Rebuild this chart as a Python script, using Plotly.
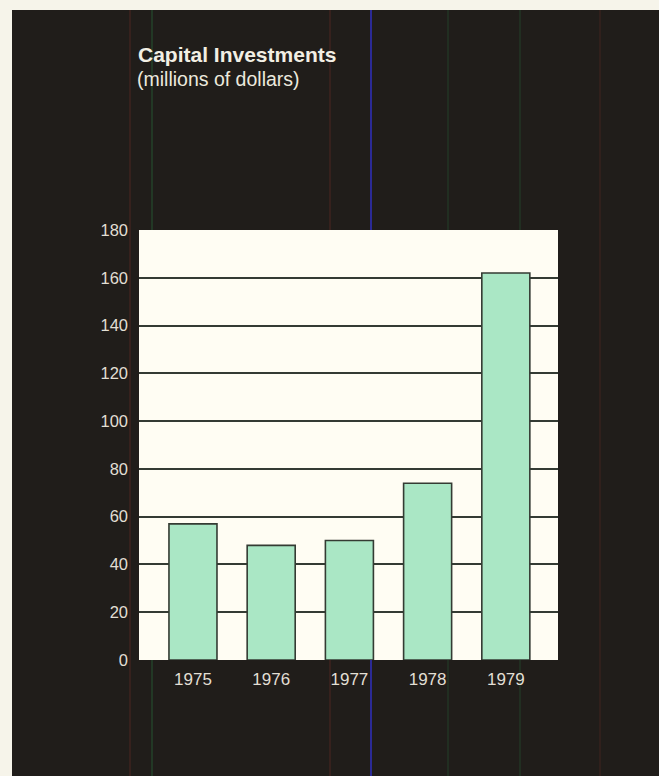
import plotly.graph_objects as go

# Chart data
years = ["1975", "1976", "1977", "1978", "1979"]
investments = [57, 48, 50, 74, 162]
y_tick_values = [0, 20, 40, 60, 80, 100, 120, 140, 160, 180]
title_text = "Capital Investments"
subtitle_text = "(millions of dollars)"

# Page geometry (pixels)
W, H = 659, 776
PLOT_L, PLOT_R, PLOT_T, PLOT_B = 139, 558, 230, 660
PANEL_L, PANEL_T = 12, 10


def paper_x(px):
    return (px - PLOT_L) / (PLOT_R - PLOT_L)


def paper_y(py):
    return (PLOT_B - py) / (PLOT_B - PLOT_T)


PANEL = "#201d1a"
MARGIN_BG = "#f6f4ea"
PLOT_BG = "#fffdf3"
BAR_FILL = "#aae7c5"
LINE_DARK = "#343b33"
TEXT_LIGHT = "#e2dfd4"

fig = go.Figure()
fig.add_trace(
    go.Bar(
        x=years,
        y=investments,
        width=0.614,
        marker=dict(color=BAR_FILL, line=dict(color=LINE_DARK, width=1.6)),
        hoverinfo="x+y",
    )
)

shapes = []
# light border strips along the top and left edge of the page
shapes.append(dict(type="rect", xref="paper", yref="paper", layer="below",
                   x0=paper_x(0), x1=paper_x(W), y0=paper_y(PANEL_T), y1=paper_y(0),
                   fillcolor=MARGIN_BG, line=dict(width=0)))
shapes.append(dict(type="rect", xref="paper", yref="paper", layer="below",
                   x0=paper_x(0), x1=paper_x(PANEL_L), y0=paper_y(H), y1=paper_y(0),
                   fillcolor=MARGIN_BG, line=dict(width=0)))

# faint vertical print streaks across the dark panel (kept off the white plot area)
streaks = [
    (130, "rgba(120,50,40,0.35)", 1.5),
    (152, "rgba(40,110,60,0.35)", 2),
    (330, "rgba(120,50,40,0.35)", 1.5),
    (371, "rgba(50,50,210,0.9)", 1.5),
    (448, "rgba(40,110,60,0.3)", 1.5),
    (520, "rgba(40,110,60,0.3)", 1.5),
    (600, "rgba(120,50,40,0.25)", 1.5),
]
for sx, scol, sw in streaks:
    if PLOT_L <= sx <= PLOT_R:
        segments = [(PANEL_T, PLOT_T), (PLOT_B, H)]
    else:
        segments = [(PANEL_T, H)]
    for top, bottom in segments:
        shapes.append(dict(type="line", xref="paper", yref="paper", layer="below",
                           x0=paper_x(sx), x1=paper_x(sx), y0=paper_y(bottom), y1=paper_y(top),
                           line=dict(color=scol, width=sw)))

annotations = [
    dict(text=f"<b>{title_text}</b>", xref="paper", yref="paper",
         x=paper_x(136), y=paper_y(54.5), xanchor="left", yanchor="middle",
         showarrow=False, font=dict(family="Liberation Sans, Arial", size=21, color="#f2efe4")),
    dict(text=subtitle_text, xref="paper", yref="paper",
         x=paper_x(135), y=paper_y(79), xanchor="left", yanchor="middle",
         showarrow=False, font=dict(family="Liberation Sans, Arial", size=19.5, color="#ece9de")),
]

fig.update_layout(
    width=W,
    height=H,
    margin=dict(l=PLOT_L, r=W - PLOT_R, t=PLOT_T, b=H - PLOT_B, autoexpand=False),
    paper_bgcolor=PANEL,
    plot_bgcolor=PLOT_BG,
    showlegend=False,
    shapes=shapes,
    annotations=annotations,
    font=dict(family="Liberation Sans, Arial", color=TEXT_LIGHT),
)

fig.update_xaxes(
    type="category",
    range=[-0.69, 4.667],
    showgrid=False,
    showline=False,
    zeroline=False,
    ticks="",
    ticklabelstandoff=7,
    tickfont=dict(size=17, color=TEXT_LIGHT),
)
fig.update_yaxes(
    range=[0, 180],
    tickvals=y_tick_values,
    showgrid=True,
    gridcolor=LINE_DARK,
    gridwidth=1.6,
    showline=False,
    zeroline=False,
    ticks="",
    ticklabelstandoff=10,
    tickfont=dict(size=16.5, color=TEXT_LIGHT),
)

fig.write_html("out.html")
